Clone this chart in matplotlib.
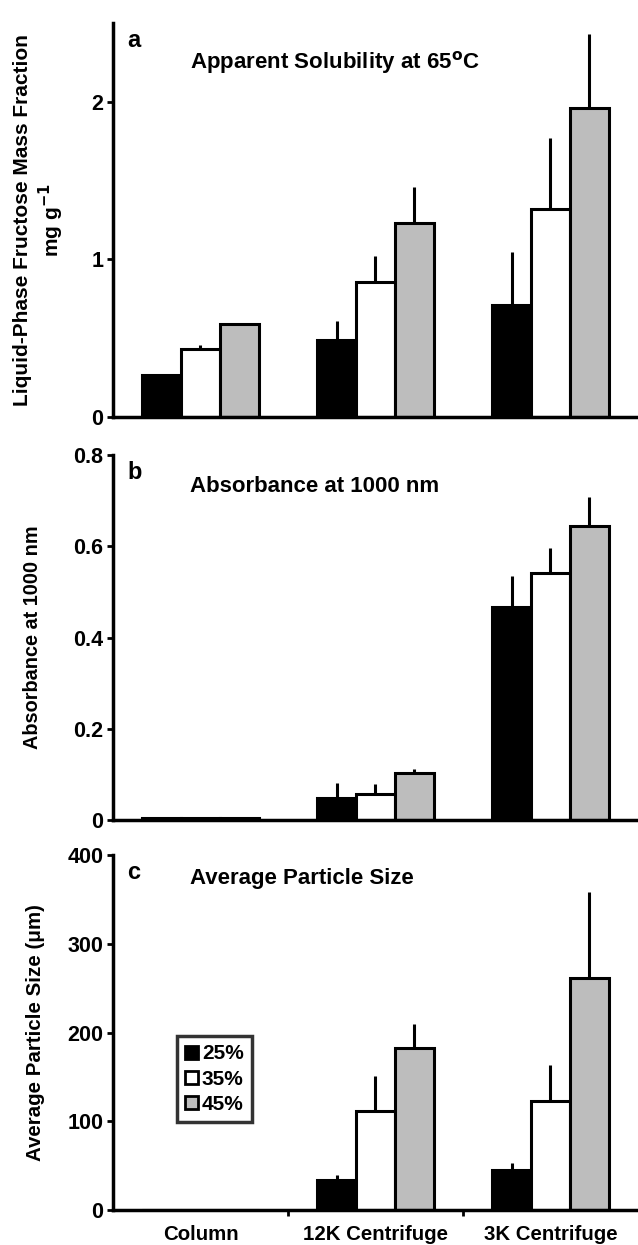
import numpy as np
import matplotlib
matplotlib.use("Agg")
import matplotlib.pyplot as plt
from matplotlib.patches import Patch

plt.rcParams['font.family'] = ['Liberation Sans', 'DejaVu Sans']
plt.rcParams['font.weight'] = 'bold'
plt.rcParams['mathtext.default'] = 'bf'

categories = ["Column", "12K Centrifuge", "3K Centrifuge"]
series = ["25%", "35%", "45%"]
colors = ["black", "white", "#bdbdbd"]

# panel a: apparent solubility (mg/g)
sol_25 = [0.27, 0.49, 0.71]
sol_35 = [0.43, 0.86, 1.32]
sol_45 = [0.59, 1.23, 1.96]
sol_25_err = [0.0, 0.12, 0.34]
sol_35_err = [0.03, 0.16, 0.45]
sol_45_err = [0.0, 0.23, 0.47]

# panel b: absorbance at 1000 nm
abs_25 = [0.004, 0.048, 0.466]
abs_35 = [0.005, 0.057, 0.541]
abs_45 = [0.005, 0.103, 0.644]
abs_25_err = [0.0, 0.033, 0.069]
abs_35_err = [0.0, 0.022, 0.055]
abs_45_err = [0.0, 0.009, 0.064]

# panel c: average particle size (um)
size_25 = [0, 34, 45]
size_35 = [0, 112, 123]
size_45 = [0, 183, 261]
size_25_err = [0, 6, 8]
size_35_err = [0, 39, 40]
size_45_err = [0, 27, 98]

panels = [
    ("a", "Apparent Solubility at 65$^{o}$C",
     "Liquid-Phase Fructose Mass Fraction\nmg g$^{-1}$", 15,
     [sol_25, sol_35, sol_45], [sol_25_err, sol_35_err, sol_45_err],
     (0, 2.5), [0, 1, 2], ["0", "1", "2"]),
    ("b", "Absorbance at 1000 nm", "Absorbance at 1000 nm", 14.3,
     [abs_25, abs_35, abs_45], [abs_25_err, abs_35_err, abs_45_err],
     (0, 0.8), [0, 0.2, 0.4, 0.6, 0.8], ["0", "0.2", "0.4", "0.6", "0.8"]),
    ("c", "Average Particle Size", "Average Particle Size (\u03bcm)", 14.8,
     [size_25, size_35, size_45], [size_25_err, size_35_err, size_45_err],
     (0, 400), [0, 100, 200, 300, 400], ["0", "100", "200", "300", "400"]),
]

positions = [
    [0.177, 0.665, 0.823, 0.3165],
    [0.177, 0.3414, 0.823, 0.293],
    [0.177, 0.0281, 0.823, 0.285],
]
title_y = [0.90, 0.915, 0.935]
ylabel_x = [-0.09, -0.135, -0.130]

fig = plt.figure(figsize=(6.38, 12.45), dpi=100)

x = np.arange(len(categories)) + 0.5
w = 0.222
offsets = [-w, 0, w]

axes = []
for k, (pos, (letter, title, ylabel, ylsize, vals, errs, ylim, yt, ytl)) in enumerate(zip(positions, panels)):
    ax = fig.add_axes(pos)
    axes.append(ax)
    for i in range(3):
        v = np.array(vals[i], dtype=float)
        e = np.array(errs[i], dtype=float)
        ax.errorbar(x + offsets[i], v, yerr=[np.zeros_like(e), e], fmt='none',
                    ecolor='black', elinewidth=2.2, capsize=0, zorder=1)
        ax.bar(x + offsets[i], v, width=w, color=colors[i], edgecolor='black',
               linewidth=2.2, zorder=2, label=series[i])
    ax.set_xlim(0, 3)
    ax.set_ylim(*ylim)
    ax.set_yticks(yt)
    ax.set_yticklabels(ytl)
    for s in ["top", "right"]:
        ax.spines[s].set_visible(False)
    for s in ["left", "bottom"]:
        ax.spines[s].set_linewidth(2.5)
    ax.tick_params(axis='y', direction='out', length=4, width=2, labelsize=15.5, pad=3)
    ax.set_xticks([])
    ax.set_ylabel(ylabel, fontsize=ylsize, fontweight='bold')
    ax.yaxis.set_label_coords(ylabel_x[k], 0.5)
    ax.text(0.027, 0.985, letter, transform=ax.transAxes, fontsize=17,
            fontweight='bold', va='top', ha='left')
    ax.text(0.147, title_y[k], title, transform=ax.transAxes,
            fontsize=16, fontweight='bold', va='center', ha='left')

axc = axes[2]
axc.set_xticks(x)
axc.set_xticklabels(categories, fontsize=14.7, fontweight='bold')
axc.tick_params(axis='x', which='major', length=0, pad=11)
axc.set_xticks([1, 2], minor=True)
axc.tick_params(axis='x', which='minor', direction='out', length=4, width=2)

handles = [Patch(facecolor=c, edgecolor='black', linewidth=2) for c in colors]
leg = axc.legend(handles, series, loc='upper left', bbox_to_anchor=(0.122, 0.49),
                 borderaxespad=0, frameon=True, fancybox=False, edgecolor='black',
                 fontsize=15, handlelength=0.6, handleheight=0.6, handletextpad=0.2,
                 borderpad=0.4, labelspacing=0.3)
leg.get_frame().set_linewidth(2.5)

fig.savefig("out.png", dpi=100)
